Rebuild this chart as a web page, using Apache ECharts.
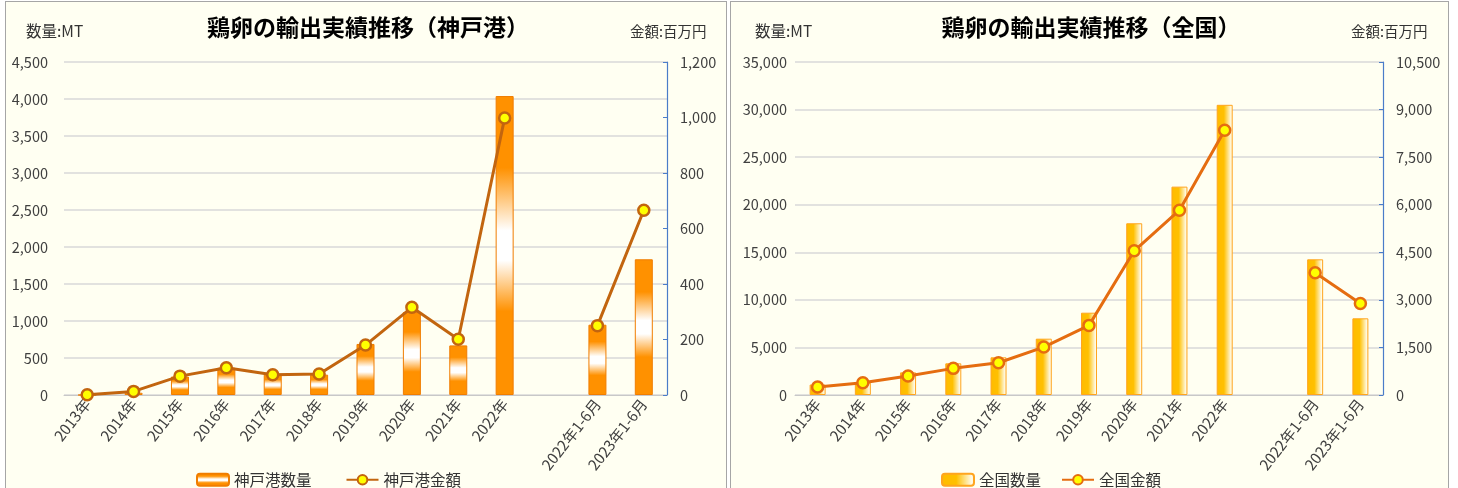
<!DOCTYPE html>
<html>
<head>
<meta charset="utf-8">
<script src="https://cdn.jsdelivr.net/npm/echarts@6/dist/echarts.min.js"></script>
<style>
  html, body { margin:0; padding:0; background:#ffffff; }
  .panel { position:absolute; top:1px; height:500px; background:#fffff2; border:1.5px solid #a6a6a6; box-sizing:border-box; }
  #kobe { left:5px; width:722px; }
  #zenkoku { left:730px; width:719px; }
</style>
</head>
<body>
<div id="kobe" class="panel"></div>
<div id="zenkoku" class="panel"></div>
<script>
// categories (the empty one is the gap before the half-year figures)
const categories = ['2013年','2014年','2015年','2016年','2017年','2018年','2019年','2020年','2021年','2022年','','2022年1-6月','2023年1-6月']

// 神戸港
const kobeQty    = [0, 30, 250, 368, 275, 275, 690, 1120, 670, 4040, null, 950, 1834]
const kobeAmount = [1, 13, 68, 98, 73, 76, 180, 316, 201, 998, null, 250, 666]

// 全国
const zenQty    = [1100, 1300, 2380, 3330, 3960, 5920, 8650, 18050, 21900, 30500, null, 14260, 8060]
const zenAmount = [250, 388, 598, 840, 1018, 1512, 2195, 4546, 5828, 8348, null, 3853, 2888]

const fontJP = '"Noto Sans CJK JP", "Noto Sans", sans-serif'
const labelColor = '#404040'

const makeOption = cfg => {
  return {
    animation: false,
    textStyle: { fontFamily: fontJP },
    title: [
      { text: cfg.title, left: cfg.titleX, top: 9, textAlign: 'center',
        textStyle: { fontSize: 23, fontWeight: 'bold', color: '#000', fontFamily: fontJP } },
      { text: '数量:MT', left: cfg.unitL, top: 16,
        textStyle: { fontSize: 15.5, fontWeight: 'normal', color: '#333', fontFamily: fontJP } },
      { text: '金額:百万円', left: cfg.unitR, top: 17,
        textStyle: { fontSize: 14.5, fontWeight: 'normal', color: '#333', fontFamily: fontJP } }
    ],
    legend: {
      left: cfg.legendX, top: 465, itemGap: cfg.legendGap, itemWidth: 32, itemHeight: 12,
      textStyle: { fontSize: 15.5, color: '#333', fontFamily: fontJP },
      data: [cfg.qtyName, cfg.amtName]
    },
    grid: { left: cfg.gridLeft, top: 60, width: cfg.gridWidth, height: 333, containLabel: false },
    xAxis: {
      type: 'category',
      data: categories,
      axisLine: { lineStyle: { color: '#c8c8c8' } },
      axisTick: { show: false },
      axisLabel: { rotate: 52, interval: 0, fontSize: 15, color: labelColor, margin: 6 }
    },
    yAxis: [
      {
        type: 'value', min: 0, max: cfg.qtyMax, interval: cfg.qtyStep,
        axisLine: { show: false }, axisTick: { show: false },
        axisLabel: { fontSize: 14.5, color: labelColor, margin: cfg.leftMargin,
          formatter: v => v.toLocaleString('en-US') },
        splitLine: { lineStyle: { color: '#d9d9d9', width: 1.5 } }
      },
      {
        type: 'value', min: 0, max: cfg.amtMax, interval: cfg.amtStep,
        axisLine: { show: true, lineStyle: { color: '#4a7cc9', width: 1.2 } },
        axisTick: { show: true, inside: true, length: 4, lineStyle: { color: '#4a7cc9' } },
        axisLabel: { fontSize: 14.5, color: labelColor, margin: 13,
          formatter: v => v.toLocaleString('en-US') },
        splitLine: { show: false }
      }
    ],
    series: [
      {
        name: cfg.qtyName, type: 'bar', yAxisIndex: 0, barWidth: cfg.barWidth,
        data: cfg.qty,
        itemStyle: { color: cfg.barColor, borderColor: cfg.barBorder, borderWidth: 1 }
      },
      {
        name: cfg.amtName, type: 'line', yAxisIndex: 1,
        data: cfg.amt, connectNulls: false,
        symbol: 'circle', symbolSize: 11,
        lineStyle: { color: cfg.lineColor, width: 3 },
        itemStyle: { color: '#ffff00', borderColor: cfg.lineColor, borderWidth: 2.5 }
      }
    ]
  }
}

const kobeBar = new echarts.graphic.LinearGradient(0, 0, 0, 1, [
  { offset: 0, color: '#ff9100' },
  { offset: 0.24, color: '#ff9100' },
  { offset: 0.45, color: '#ffffff' },
  { offset: 0.55, color: '#ffffff' },
  { offset: 0.72, color: '#ff9100' },
  { offset: 1, color: '#ff9100' }
])

const zenBar = new echarts.graphic.LinearGradient(0, 0, 1, 0, [
  { offset: 0, color: '#ffbb00' },
  { offset: 0.45, color: '#ffc000' },
  { offset: 0.9, color: '#fffae6' },
  { offset: 1, color: '#fff3cc' }
])

const kobeChart = echarts.init(document.getElementById('kobe'))
kobeChart.setOption(makeOption({
  title: '鶏卵の輸出実績推移（神戸港）', titleX: 357, unitL: 15, unitR: 619, legendX: 185, legendGap: 34,
  qtyName: '神戸港数量', amtName: '神戸港金額',
  gridLeft: 58, gridWidth: 603, leftMargin: 16,
  qtyMax: 4500, qtyStep: 500, amtMax: 1200, amtStep: 200,
  qty: kobeQty, amt: kobeAmount, barWidth: 18,
  barColor: kobeBar, barBorder: '#f07d00', lineColor: '#c2650f'
}))

const zenChart = echarts.init(document.getElementById('zenkoku'))
zenChart.setOption(makeOption({
  title: '鶏卵の輸出実績推移（全国）', titleX: 355, unitL: 19, unitR: 615, legendX: 205, legendGap: 20,
  qtyName: '全国数量', amtName: '全国金額',
  gridLeft: 64, gridWidth: 588, leftMargin: 8,
  qtyMax: 35000, qtyStep: 5000, amtMax: 10500, amtStep: 1500,
  qty: zenQty, amt: zenAmount, barWidth: 16,
  barColor: zenBar, barBorder: '#ffa51f', lineColor: '#e56d10'
}))
</script>
</body>
</html>
